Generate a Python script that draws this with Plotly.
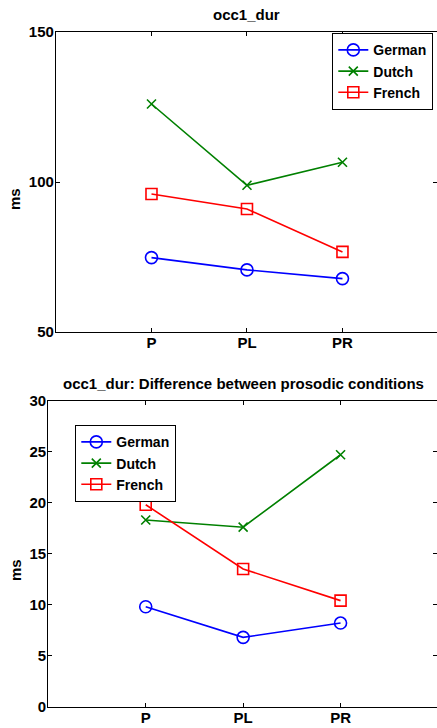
import plotly.graph_objects as go

categories = ["P", "PL", "PR"]
cat_pos = [1, 2, 3]

german_dur = [74.8, 70.7, 67.8]
dutch_dur = [126.0, 98.9, 106.6]
french_dur = [96.0, 91.0, 76.7]

german_diff = [9.8, 6.8, 8.2]
dutch_diff = [18.3, 17.6, 24.7]
french_diff = [19.8, 13.5, 10.4]

top_ticks = [50, 100, 150]
bottom_ticks = [0, 5, 10, 15, 20, 25, 30]

W, H = 437, 728
FONT = "Liberation Sans"
FS = 15


def fx(px):
    return px / W


def fy(py):
    return 1 - py / H


series = [
    ("German", "#0000ff", "circle-open", 12, german_dur, german_diff),
    ("Dutch", "#008000", "x-thin-open", 9, dutch_dur, dutch_diff),
    ("French", "#ff0000", "square-open", 11, french_dur, french_diff),
]

fig = go.Figure()
for name, color, sym, size, top_vals, bot_vals in series:
    fig.add_trace(go.Scatter(
        x=cat_pos, y=top_vals, name=name, mode="lines+markers",
        line=dict(color=color, width=1.6),
        marker=dict(symbol=sym, size=size, color=color, line=dict(color=color, width=1.6)),
        xaxis="x", yaxis="y", legend="legend",
    ))
for name, color, sym, size, top_vals, bot_vals in series:
    fig.add_trace(go.Scatter(
        x=cat_pos, y=bot_vals, name=name, mode="lines+markers",
        line=dict(color=color, width=1.6),
        marker=dict(symbol=sym, size=size, color=color, line=dict(color=color, width=1.6)),
        xaxis="x2", yaxis="y2", legend="legend2",
    ))

bold = dict(family=FONT, size=FS, color="black", weight="bold")
leg_font = dict(family=FONT, size=14, color="black", weight="bold")
axis_common = dict(
    showline=True, linecolor="black", linewidth=1.3, mirror="ticks",
    ticks="inside", ticklen=4, tickcolor="black", showgrid=False, zeroline=False,
    automargin=False, tickfont=bold,
)

fig.update_layout(
    width=W, height=H,
    margin=dict(l=0, r=0, t=0, b=0, autoexpand=False),
    paper_bgcolor="white", plot_bgcolor="white",
    showlegend=True,
    xaxis=dict(domain=[fx(56), 1.0], range=[0, 3.99], tickvals=cat_pos, ticktext=categories,
               anchor="y", ticklabelstandoff=-3, **axis_common),
    yaxis=dict(domain=[fy(332), fy(32)], range=[50, 150], tickvals=top_ticks,
               anchor="x", ticklabelstandoff=-2, **axis_common),
    xaxis2=dict(domain=[fx(48.3), 1.0], range=[0, 3.99], tickvals=cat_pos, ticktext=categories,
                anchor="y2", ticklabelstandoff=-3, **axis_common),
    yaxis2=dict(domain=[fy(706.7), fy(400.7)], range=[0, 30], tickvals=bottom_ticks,
                anchor="x2", ticklabelstandoff=-2, **axis_common),
    legend=dict(x=fx(332), y=fy(33), xanchor="left", yanchor="top",
                bordercolor="black", borderwidth=1.3, bgcolor="white",
                font=leg_font, tracegroupgap=0, itemwidth=30),
    legend2=dict(x=fx(75), y=fy(425), xanchor="left", yanchor="top",
                 bordercolor="black", borderwidth=1.3, bgcolor="white",
                 font=leg_font, tracegroupgap=0, itemwidth=30),
    annotations=[
        dict(text="occ1_dur", x=fx(247), y=fy(14), xref="paper", yref="paper",
             xanchor="center", yanchor="middle", showarrow=False, font=bold),
        dict(text="occ1_dur: Difference between prosodic conditions", x=fx(243), y=fy(383),
             xref="paper", yref="paper", xanchor="center", yanchor="middle",
             showarrow=False, font=bold),
        dict(text="ms", x=fx(15), y=fy(199), xref="paper", yref="paper", textangle=-90,
             xanchor="center", yanchor="middle", showarrow=False, font=bold),
        dict(text="ms", x=fx(15), y=fy(570), xref="paper", yref="paper", textangle=-90,
             xanchor="center", yanchor="middle", showarrow=False, font=bold),
    ],
)

fig.write_html("out.html", config={"displayModeBar": False},
               post_script="document.body.style.margin='0';")
